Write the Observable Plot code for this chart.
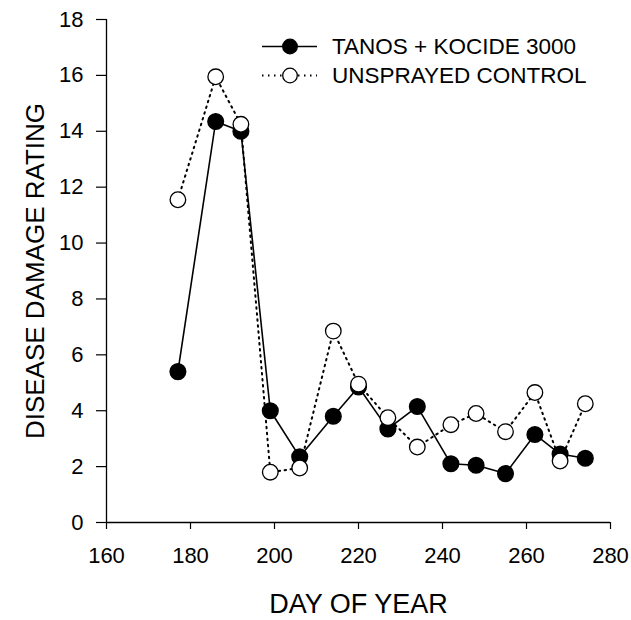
<!DOCTYPE html>
<html>
<head>
<meta charset="utf-8">
<script src="https://cdn.jsdelivr.net/npm/d3@7"></script>
<script src="https://cdn.jsdelivr.net/npm/@observablehq/plot@0.6"></script>
<style>
  html, body { margin: 0; padding: 0; background: #fff; }
  #chart { position: relative; width: 631px; height: 620px; }
</style>
</head>
<body>
<div id="chart"></div>
<script>
const days = [177, 186, 192, 199, 206, 214, 220, 227, 234, 242, 248, 255, 262, 268, 274];
const tanosKocide = [5.4, 14.35, 14.0, 4.0, 2.35, 3.8, 4.85, 3.35, 4.15, 2.1, 2.05, 1.75, 3.15, 2.45, 2.3];
const unsprayed = [11.55, 15.95, 14.25, 1.8, 1.95, 6.85, 4.95, 3.75, 2.7, 3.5, 3.9, 3.25, 4.65, 2.2, 4.25];
const seriesNames = ["TANOS + KOCIDE 3000", "UNSPRAYED CONTROL"];
const xTicks = [160, 180, 200, 220, 240, 260, 280];
const yTicks = [0, 2, 4, 6, 8, 10, 12, 14, 16, 18];
const xLabel = "DAY OF YEAR";
const yLabel = "DISEASE DAMAGE RATING";

const treated = days.map((d, i) => ({day: d, value: tanosKocide[i]}));
const control = days.map((d, i) => ({day: d, value: unsprayed[i]}));

const font = "'Liberation Sans', Arial, sans-serif";

const plot = Plot.plot({
  width: 631,
  height: 620,
  marginLeft: 106,
  marginRight: 21,
  marginTop: 19,
  marginBottom: 98,
  style: {fontFamily: font, background: "#fff", color: "#000"},
  x: {domain: [160, 280]},
  y: {domain: [0, 18]},
  marks: [
    Plot.axisX({ticks: xTicks, tickSize: 7, tickPadding: 18, fontSize: 22, label: null, tickFormat: d => String(d), strokeWidth: 1.2}),
    Plot.axisY({ticks: yTicks, tickSize: 10, tickPadding: 13, fontSize: 22, label: null, tickFormat: d => String(d), strokeWidth: 1.2}),
    Plot.ruleX([160], {stroke: "#000", strokeWidth: 1.3}),
    Plot.ruleY([0], {stroke: "#000", strokeWidth: 1.3}),
    Plot.text([yLabel], {frameAnchor: "left", textAnchor: "middle", lineAnchor: "middle", rotate: -90, dx: -71, fontSize: 26, fill: "#000"}),
    Plot.text([xLabel], {frameAnchor: "bottom", textAnchor: "middle", lineAnchor: "middle", dy: 82, fontSize: 27, fill: "#000"}),
    Plot.line(treated, {x: "day", y: "value", stroke: "#000", strokeWidth: 1.6}),
    Plot.dot(treated, {x: "day", y: "value", r: 7.8, fill: "#000", stroke: "#000"}),
    Plot.line(control, {x: "day", y: "value", stroke: "#000", strokeWidth: 2, strokeDasharray: "1.5,4.5"}),
    Plot.dot(control, {x: "day", y: "value", r: 7.8, fill: "#fff", stroke: "#000", strokeWidth: 1.3})
  ]
});

document.getElementById("chart").appendChild(plot);

// Legend (inside plot area, top)
const svg = d3.select(plot);
const lg = svg.append("g").attr("font-family", font).attr("font-size", 22.5).attr("text-anchor", "start");
const entries = [
  {name: seriesNames[0], dash: null, fill: "#000", y: 46.5},
  {name: seriesNames[1], dash: "1.5,4.5", fill: "#fff", y: 75.5}
];
entries.forEach(e => {
  lg.append("line").attr("x1", 262).attr("x2", 317).attr("y1", e.y).attr("y2", e.y)
    .attr("stroke", "#000").attr("stroke-width", e.dash ? 2 : 1.6)
    .attr("stroke-dasharray", e.dash);
  lg.append("circle").attr("cx", 290).attr("cy", e.y).attr("r", 7.3)
    .attr("fill", e.fill).attr("stroke", "#000").attr("stroke-width", 1.3);
  lg.append("text").attr("x", 332).attr("y", e.y).attr("dy", "0.35em").attr("text-anchor", "start").attr("fill", "#000").text(e.name);
});
</script>
</body>
</html>
